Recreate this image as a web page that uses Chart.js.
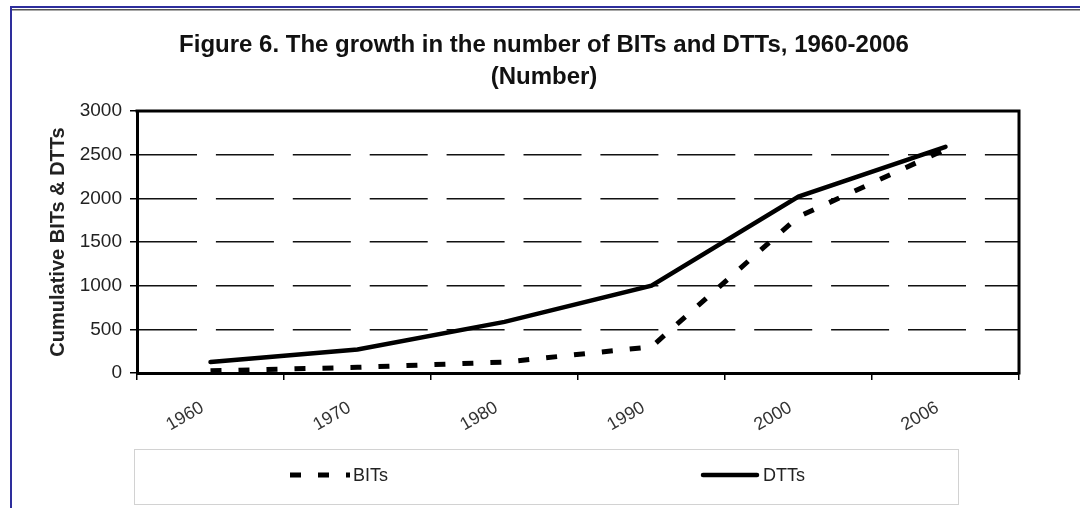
<!DOCTYPE html>
<html><head><meta charset="utf-8">
<script src="https://cdn.jsdelivr.net/npm/chart.js@4.4.1/dist/chart.umd.min.js"></script>
<style>html,body{margin:0;padding:0;background:#fff;} #wrap{width:1080px;height:508px;position:relative;}</style>
</head><body><div id="wrap"><canvas id="c" width="1080" height="508"></canvas></div>
<script>
const categories = ['1960', '1970', '1980', '1990', '2000', '2006'];
const bitsValues = [25, 65, 125, 300, 1790, 2560];
const dttsValues = [125, 270, 585, 1000, 2020, 2590];
const yTickValues = [0, 500, 1000, 1500, 2000, 2500, 3000];
const titleLines = ['Figure 6. The growth in the number of BITs and DTTs, 1960-2006', '(Number)'];
const yAxisTitle = 'Cumulative BITs & DTTs';
const seriesNames = ['BITs', 'DTTs'];

const FONT = "'Liberation Sans', Arial, sans-serif";

const framePlugin = {
  id: 'frame',
  beforeDraw(chart) {
    const ctx = chart.ctx;
    ctx.save();
    ctx.fillStyle = '#fff';
    ctx.fillRect(0, 0, chart.width, chart.height);
    ctx.fillStyle = '#2e2e9c';
    ctx.fillRect(10, 6, chart.width - 10, 2);
    ctx.fillRect(10, 6, 2, chart.height - 6);
    ctx.fillStyle = '#555';
    ctx.fillRect(12, 9, chart.width - 12, 1.5);
    // title
    ctx.fillStyle = '#111';
    ctx.font = 'bold 24px ' + FONT;
    ctx.textAlign = 'center';
    ctx.textBaseline = 'middle';
    const ys = [45, 77];
    titleLines.forEach((t, i) => ctx.fillText(t, 544, ys[i]));
    ctx.restore();
  },
  beforeDatasetsDraw(chart) {
    const {ctx, chartArea: a} = chart;
    ctx.save();
    ctx.strokeStyle = '#000';
    ctx.lineWidth = 3;
    ctx.beginPath();
    ctx.moveTo(a.left - 1.5, a.top);
    ctx.lineTo(a.right, a.top);
    ctx.lineTo(a.right, a.bottom + 1.5);
    ctx.stroke();
    ctx.restore();
  }
};

const legendPlugin = {
  id: 'boxLegend',
  afterDraw(chart) {
    const ctx = chart.ctx;
    const a = chart.chartArea;
    ctx.save();
    ctx.strokeStyle = '#d2d2d2';
    ctx.lineWidth = 1;
    ctx.strokeRect(a.left - 2.5, 449.5, 824, 55);
    const sampleX = [290, 700];
    const y = 475;
    chart.data.datasets.forEach((ds, i) => {
      ctx.save();
      ctx.beginPath();
      ctx.rect(sampleX[i], y - 10, 60, 20);
      ctx.clip();
      ctx.strokeStyle = ds.borderColor;
      ctx.lineWidth = ds.borderWidth;
      ctx.setLineDash(ds.borderDash || []);
      ctx.lineCap = ds.borderDash ? 'butt' : 'round';
      ctx.beginPath();
      const inset = ds.borderDash ? 0 : 3;
      ctx.moveTo(sampleX[i] + inset, y);
      ctx.lineTo(sampleX[i] + 60 - inset, y);
      ctx.stroke();
      ctx.restore();
      ctx.fillStyle = '#222';
      ctx.font = '18px ' + FONT;
      ctx.textBaseline = 'middle';
      ctx.textAlign = 'left';
      ctx.fillText(ds.label, sampleX[i] + 63, y + 1);
    });
    ctx.restore();
  }
};

new Chart(document.getElementById('c'), {
  type: 'line',
  data: {
    labels: categories,
    datasets: [
      { label: seriesNames[0], data: bitsValues, borderColor: '#000', backgroundColor: '#000',
        borderWidth: 5, borderDash: [11, 17], borderCapStyle: 'butt', pointRadius: 0, tension: 0 },
      { label: seriesNames[1], data: dttsValues, borderColor: '#000', backgroundColor: '#000',
        borderWidth: 4.5, pointRadius: 0, tension: 0, borderCapStyle: 'round' }
    ]
  },
  options: {
    responsive: false,
    animation: false,
    events: [],
    layout: { padding: { left: 40, right: 61, top: 111, bottom: 65 } },
    plugins: {
      legend: { display: false },
      tooltip: { enabled: false },
      title: { display: false }
    },
    scales: {
      x: {
        type: 'category',
        offset: true,
        afterFit(s) { s.height = 70; },
        grid: { display: true, offset: true, drawOnChartArea: false, drawTicks: true,
                tickLength: 7, color: '#000', lineWidth: 1.5 },
        border: { display: true, color: '#000', width: 3 },
        ticks: { color: '#333', font: { family: FONT, size: 18 }, minRotation: 30, maxRotation: 30,
                 padding: 17, labelOffset: -8, autoSkip: false }
      },
      y: {
        min: 0, max: 3000,
        afterFit(s) { s.width = 97; },
        afterBuildTicks(s) { s.ticks = yTickValues.map(v => ({ value: v })); },
        grid: { color: '#111', lineWidth: 1.5, tickLength: 7,
                tickColor: '#000', tickWidth: 1.5, tickBorderDash: [] },
        border: { display: true, color: '#000', width: 3, dash: [58, 18.9] },
        ticks: { color: '#222', font: { family: FONT, size: 19 }, padding: 8,
                 callback: (v) => String(v) },
        title: { display: true, text: yAxisTitle, color: '#222',
                 font: { family: FONT, size: 20, weight: 'bold' }, padding: { top: 6, bottom: 0 } }
      }
    }
  },
  plugins: [framePlugin, legendPlugin]
});
</script></body></html>
